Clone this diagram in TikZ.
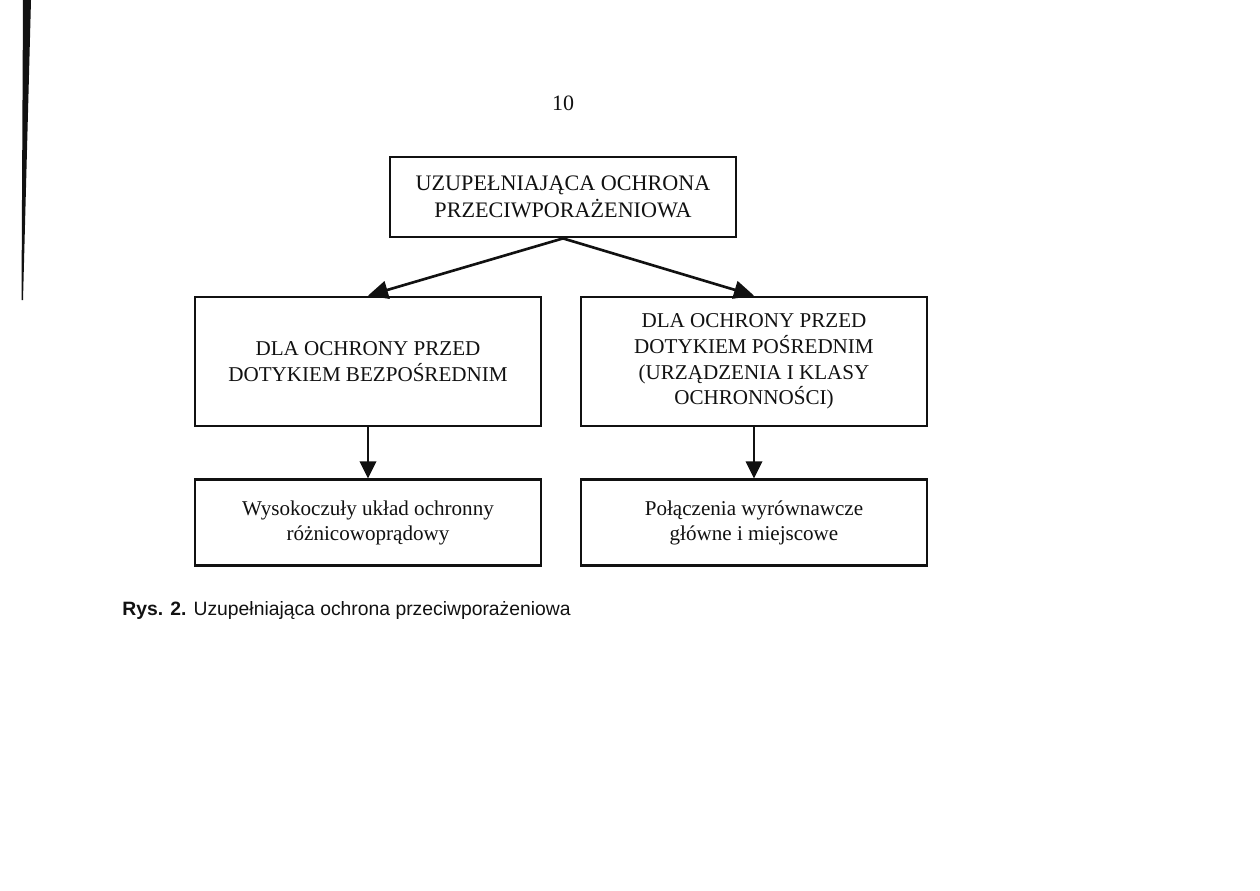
\documentclass[tikz,border=0pt]{standalone}
\usepackage{fontspec}
\setmainfont{Liberation Serif}
\newfontfamily\opsans{Liberation Sans}
\usetikzlibrary{arrows.meta,positioning}
\definecolor{opInk}{HTML}{111111}
\tikzset{
  opbox/.style={
    rectangle, draw=opInk, line width=1.6pt, fill=white, text=opInk,
    align=center, inner sep=2pt, minimum width=6.92cm,
    font=\fontsize{12}{14.6}\selectfont
  },
  opmain/.style={opbox, minimum height=1.6cm, font=\fontsize{12.6}{15.4}\selectfont},
  opmid/.style={opbox, minimum height=2.58cm},
  oplow/.style={opbox, minimum height=1.72cm},
  oplink/.style={-{Triangle[length=4mm,width=3.6mm]}, draw=opInk, line width=1.5pt},
  opdown/.style={-{Triangle[length=3.4mm,width=3.3mm]}, draw=opInk, line width=1.1pt}
}
\begin{document}
\begin{tikzpicture}[x=0.02cm, y=-0.02cm]
\useasboundingbox (0,0) rectangle (1260,890);

% krawedz skanu
\fill[opInk] (23,0) -- (31,0) -- (23,300) -- (21.5,300) -- cycle;

% numer strony
\node[font=\fontsize{12.5}{14}\selectfont, text=opInk] (page) at (563,103) {10};

% wezel glowny
\node[opmain] (main) at (563,197) {UZUPEŁNIAJĄCA OCHRONA\\PRZECIWPORAŻENIOWA};

% rodzaje ochrony
\node[opmid] (direct) at (368,361.5) {DLA OCHRONY PRZED\\DOTYKIEM BEZPOŚREDNIM};
\node[opmid] (indirect) at (754,361.5) {DLA OCHRONY PRZED\\DOTYKIEM POŚREDNIM\\(URZĄDZENIA I KLASY\\OCHRONNOŚCI)};

% srodki ochrony
\node[oplow, below=1.02cm of direct] (rcd) {Wysokoczuły układ ochronny\\różnicowoprądowy};
\node[oplow, below=1.02cm of indirect] (bond) {Połączenia wyrównawcze\\główne i miejscowe};

% polaczenia
\draw[oplink] (main.south) -- (direct.north);
\draw[oplink] (main.south) -- (indirect.north);
\draw[opdown] (direct) -- (rcd);
\draw[opdown] (indirect) -- (bond);

% podpis
\node[anchor=base west, inner sep=0pt, text=opInk, font=\opsans\fontsize{11}{13}\selectfont] (caption) at (122,615)
  {\textbf{Rys. 2.} Uzupełniająca ochrona przeciwporażeniowa};

\end{tikzpicture}
\end{document}
